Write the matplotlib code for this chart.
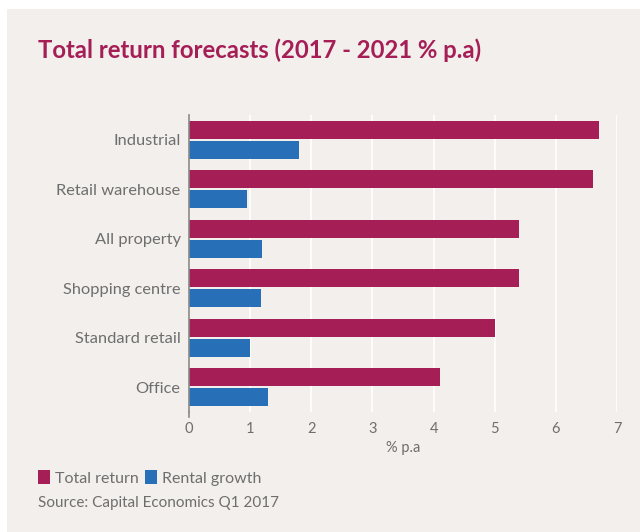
import numpy as np
import matplotlib.pyplot as plt
from matplotlib.patches import Rectangle

# Data
categories = ["Industrial", "Retail warehouse", "All property",
              "Shopping centre", "Standard retail", "Office"]
total_return = [6.7, 6.6, 5.4, 5.4, 5.0, 4.1]
rental_growth = [1.8, 0.95, 1.2, 1.18, 1.0, 1.3]

magenta = "#A51E56"
blue = "#2770B8"
panel = "#F2EFEC"
grey = "#6E6E6E"

plt.rcParams["font.family"] = ["Lato", "DejaVu Sans"]

fig = plt.figure(figsize=(6.4, 5.32), dpi=100)
fig.patch.set_facecolor("white")
fig.patches.append(Rectangle((7 / 640, 0), 1, 1 - 9 / 532, transform=fig.transFigure,
                             facecolor=panel, edgecolor="none", zorder=-10))

ax = fig.add_axes([189 / 640, 120 / 532, 428 / 640, 297 / 532])
ax.set_facecolor(panel)
ax.set_zorder(2)

y = np.arange(len(categories))
ax.barh(y - 0.2, total_return, height=0.36, color=magenta, label="Total return", zorder=3)
ax.barh(y + 0.2, rental_growth, height=0.36, color=blue, label="Rental growth", zorder=3)

ax.set_ylim(5.5, -0.5)
ax.set_xlim(0, 7)
ax.set_yticks(y)
ax.set_yticklabels(categories, fontsize=11.8, color=grey)
ax.set_xticks(range(0, 8))
ax.tick_params(axis="x", length=0, pad=7, labelsize=10.5, labelcolor=grey)
ax.tick_params(axis="y", length=0, pad=6)

ax.grid(axis="x", color="white", linewidth=1.2, zorder=1)
for s in ["top", "right", "bottom"]:
    ax.spines[s].set_visible(False)
ax.spines["left"].set_color("#8A8A8A")
ax.spines["left"].set_linewidth(1.2)
ax.spines["left"].set_zorder(4)
ax.plot([0, 0], [5.5, 5.6], color="#8A8A8A", lw=1.2, clip_on=False, zorder=4)

ax.set_xlabel("% p.a", fontsize=10.5, color=grey, labelpad=4)

fig.text(38 / 640, 1 - 50 / 532, "Total return forecasts (2017 - 2021 % p.a)",
         fontsize=17.2, color=magenta, fontweight="bold", va="center")

fig.legend(loc="center left", bbox_to_anchor=(24 / 640, 1 - 478 / 532), ncol=2,
           frameon=False, fontsize=11.5, handlelength=0.75, handleheight=0.95,
           handletextpad=0.3, columnspacing=0.4, labelcolor=grey)

fig.text(38 / 640, 1 - 503 / 532, "Source: Capital Economics Q1 2017",
         fontsize=11, color=grey, va="center")

fig.savefig("out.png", dpi=100, facecolor=fig.get_facecolor())
